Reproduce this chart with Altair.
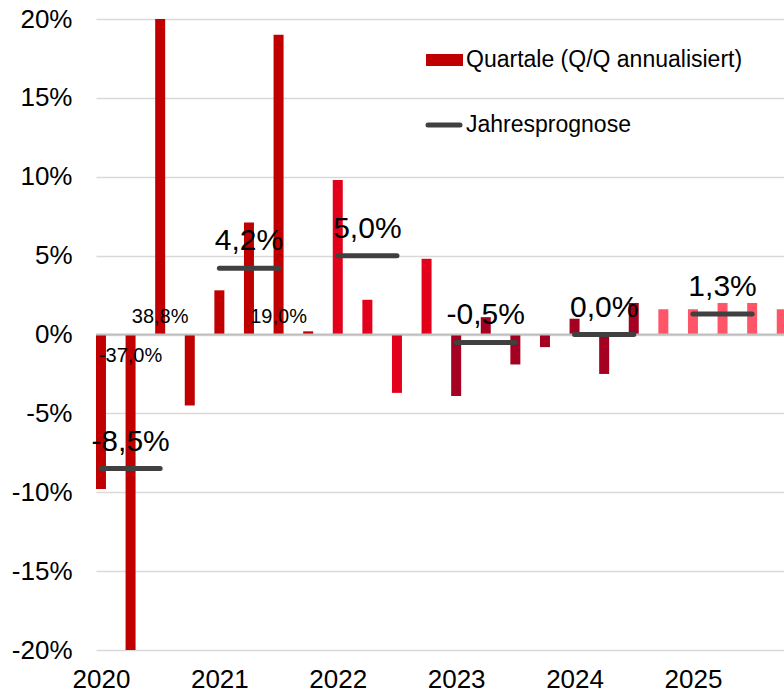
import altair as alt
import pandas as pd

# ---- data -------------------------------------------------------------
years = [2020, 2021, 2022, 2023, 2024, 2025]
quarter_years = [y for y in years for _ in range(4)]
quarter_nums = [1, 2, 3, 4] * len(years)
growth = [-9.8, -37.0, 38.8, -4.5,
          2.8, 7.1, 19.0, 0.2,
          9.8, 2.2, -3.7, 4.8,
          -3.9, 1.1, -1.9, -0.8,
          1.0, -2.5, 2.0, 1.6,
          1.6, 2.0, 2.0, 1.6]
shade = (["2020-21"] * 8 + ["2022"] * 4 + ["2023-24"] * 7 + ["Prognose"] * 5)
shade_names = ["2020-21", "2022", "2023-24", "Prognose"]
shade_colors = ["#C00000", "#E2001A", "#A50021", "#FF5569"]

forecast = [-8.5, 4.2, 5.0, -0.5, 0.0, 1.3]

callout_idx = [1, 2, 6]  # quarters whose value is printed

legend_labels = ["Quartale (Q/Q annualisiert)", "Jahresprognose"]
y_ticks = [-20, -15, -10, -5, 0, 5, 10, 15, 20]


def de(v):
    return f"{v:.1f}".replace(".", ",") + "%"


q = pd.DataFrame({
    "year": quarter_years,
    "q": quarter_nums,
    "value": growth,
    "shade": shade,
})
q["pos"] = q["year"] + (q["q"] - 1) / 4

c = q.iloc[callout_idx].copy()
c["label"] = c["value"].map(de)
c["zero"] = 0
c["sign"] = ["neg" if v < 0 else "pos" for v in c["value"]]

f = pd.DataFrame({"year": years, "value": forecast})
f["start"] = f["year"]
f["end"] = f["year"] + 0.5
f["mid"] = f["year"] + 0.25
f["label"] = f["value"].map(de)

FONT = "Liberation Sans"
xscale = alt.Scale(domain=[2019.958, 2025.769], nice=False, zero=False, padding=0)
yscale = alt.Scale(domain=[-20, 20], nice=False, padding=0)

bars = alt.Chart(q).mark_bar(size=10, clip=True).encode(
    x=alt.X("pos:Q", scale=xscale, title=None,
            axis=alt.Axis(values=years, format="d", title=None, grid=False,
                          domain=False, ticks=False, labelFontSize=26,
                          labelPadding=16, labelColor="#000000", labelFont=FONT,
                          labelFlush=False)),
    y=alt.Y("value:Q", scale=yscale, title=None,
            axis=alt.Axis(values=y_ticks, title=None, domain=False, ticks=False,
                          labelExpr="toString(datum.value) + '%'",
                          labelFontSize=26, labelPadding=24, labelColor="#000000",
                          labelFont=FONT, gridColor="#D9D9D9", gridWidth=1.5)),
    color=alt.Color("shade:N", scale=alt.Scale(domain=shade_names, range=shade_colors),
                    legend=None),
)

zero = alt.Chart(q).mark_rule(color="#BFBFBF", strokeWidth=2).encode(
    y=alt.Y("z:Q", title=None)
).transform_calculate(z="0").transform_filter("datum.q == 1 && datum.year == 2020")

lines = alt.Chart(f).mark_rule(strokeWidth=5, strokeCap="round", color="#404040").encode(
    x=alt.X("start:Q", title=None),
    x2="end:Q",
    y=alt.Y("value:Q", title=None),
)

ftext = alt.Chart(f).mark_text(fontSize=30, font=FONT, color="#000000",
                               baseline="alphabetic", dy=-18).encode(
    x=alt.X("mid:Q", title=None),
    y=alt.Y("value:Q", title=None),
    text="label:N",
)

ctext_pos = alt.Chart(c).mark_text(fontSize=20, font=FONT, color="#000000",
                                   baseline="alphabetic", dy=-12).encode(
    x=alt.X("pos:Q", title=None),
    y=alt.Y("zero:Q", title=None),
    text="label:N",
).transform_filter("datum.sign == 'pos'")

ctext_neg = alt.Chart(c).mark_text(fontSize=20, font=FONT, color="#000000",
                                   baseline="alphabetic", dy=27).encode(
    x=alt.X("pos:Q", title=None),
    y=alt.Y("zero:Q", title=None),
    text="label:N",
).transform_filter("datum.sign == 'neg'")

leg_src = alt.Chart(pd.DataFrame({"label": legend_labels}))
leg_rect = leg_src.mark_rect(color="#C00000").encode(
    x=alt.value(330), x2=alt.value(367), y=alt.value(35), y2=alt.value(47)
).transform_filter(f"datum.label == '{legend_labels[0]}'")
leg_line = leg_src.mark_rule(color="#404040", strokeWidth=5, strokeCap="round").encode(
    x=alt.value(332), x2=alt.value(364), y=alt.value(106)
).transform_filter(f"datum.label == '{legend_labels[1]}'")
leg_t1 = leg_src.mark_text(align="left", baseline="middle", fontSize=23, font=FONT,
                           color="#000000").encode(
    x=alt.value(370), y=alt.value(41), text="label:N"
).transform_filter(f"datum.label == '{legend_labels[0]}'")
leg_t2 = leg_src.mark_text(align="left", baseline="middle", fontSize=23, font=FONT,
                           color="#000000").encode(
    x=alt.value(370), y=alt.value(106), text="label:N"
).transform_filter(f"datum.label == '{legend_labels[1]}'")

chart = alt.layer(
    bars, zero, lines, ctext_pos, ctext_neg, ftext,
    leg_rect, leg_line, leg_t1, leg_t2
).properties(
    width=688, height=631,
    background="#FFFFFF",
    autosize=alt.AutoSizeParams(type="none"),
    padding={"left": 96, "top": 19, "right": 0, "bottom": 42},
).configure_view(stroke=None)

chart.save("out.html", embed_options={"renderer": "svg", "actions": False})
